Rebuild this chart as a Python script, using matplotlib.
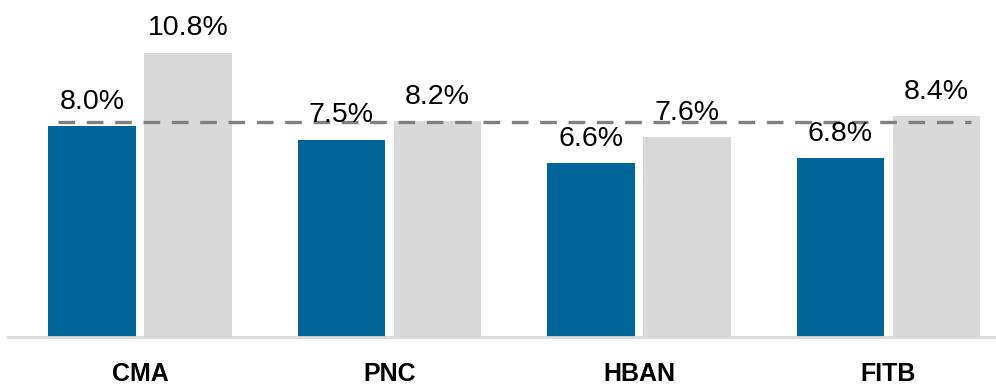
import matplotlib
matplotlib.use("Agg")
import matplotlib.pyplot as plt
import numpy as np

categories = ["CMA", "PNC", "HBAN", "FITB"]
series_blue = [8.0, 7.5, 6.6, 6.8]
series_gray = [10.8, 8.2, 7.6, 8.4]
reference_level = 8.15

plt.rcParams['font.family'] = ['Liberation Sans', 'DejaVu Sans']

fig = plt.figure(figsize=(9.96, 3.85), dpi=100)
ax = fig.add_axes([8/996, 48/385, 988/996, 337/385])

x = np.arange(len(categories))
w = 0.351
off = 0.193
b1 = ax.bar(x - off, series_blue, width=w, color="#00669A", zorder=2)
b2 = ax.bar(x + off, series_gray, width=w, color="#D9D9D9", zorder=2)

for bars, vals in ((b1, series_blue), (b2, series_gray)):
    for r, v in zip(bars, vals):
        ax.annotate(f"{v:.1f}%", (r.get_x() + r.get_width()/2, v),
                    xytext=(0, 12.4), textcoords="offset points",
                    ha="center", va="baseline", fontsize=20.5, color="black", zorder=4)

ax.plot([-0.33, 3.33], [reference_level, reference_level], color="#808080",
        lw=2.4, dashes=(5, 3.5), zorder=3)

ax.set_xlim(-0.529, 3.431)
ax.set_ylim(0, 12.8)
ax.set_xticks(x)
ax.set_xticklabels(categories, fontsize=18, fontweight="bold")
ax.tick_params(axis="x", length=0, pad=18)
ax.set_yticks([])
for s in ["top", "right", "left"]:
    ax.spines[s].set_visible(False)
ax.spines["bottom"].set_color("#D9D9D9")
ax.spines["bottom"].set_linewidth(2)

fig.savefig("out.png", dpi=100)
